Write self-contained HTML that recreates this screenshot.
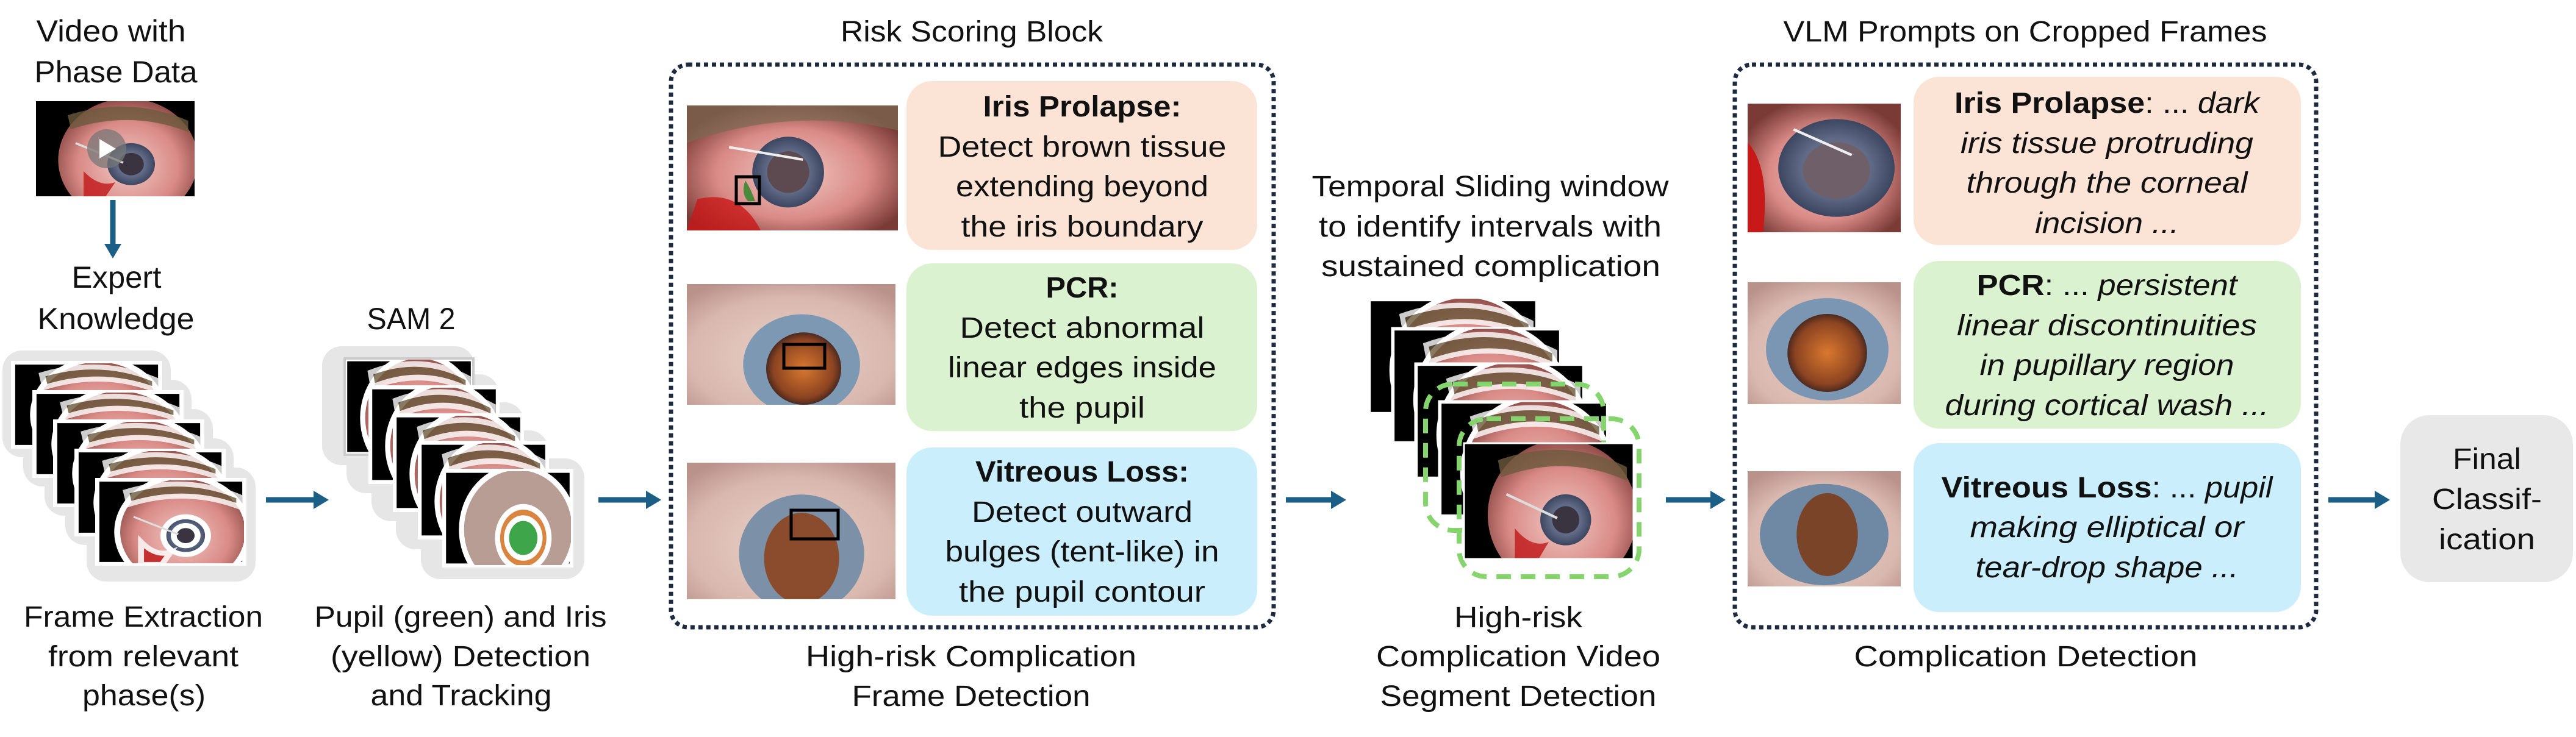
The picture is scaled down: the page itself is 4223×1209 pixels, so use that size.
<!DOCTYPE html>
<html><head><meta charset="utf-8"><style>
html,body{margin:0;padding:0;background:#fff;}
svg{display:block;}
text{font-family:"Liberation Sans",sans-serif;fill:#111;}
</style></head><body>
<svg width="4223" height="1209" viewBox="0 0 4223 1209" xmlns="http://www.w3.org/2000/svg">
<defs>
  <radialGradient id="sclera" cx="0.5" cy="0.55" r="0.6">
    <stop offset="0" stop-color="#f1c9c4"/><stop offset="0.6" stop-color="#d98a86"/><stop offset="1" stop-color="#7a3b36"/>
  </radialGradient>
  <radialGradient id="iris" cx="0.5" cy="0.5" r="0.5">
    <stop offset="0" stop-color="#8a7c86"/><stop offset="0.6" stop-color="#5f6a86"/><stop offset="1" stop-color="#3c4660"/>
  </radialGradient>
  <radialGradient id="pupO" cx="0.5" cy="0.5" r="0.5">
    <stop offset="0" stop-color="#d9782f"/><stop offset="0.8" stop-color="#8c4421"/><stop offset="1" stop-color="#4c2a20"/>
  </radialGradient>
  <radialGradient id="pale" cx="0.5" cy="0.6" r="0.7">
    <stop offset="0" stop-color="#e9d2c8"/><stop offset="0.7" stop-color="#d8b7ae"/><stop offset="1" stop-color="#b9928a"/>
  </radialGradient>
  <symbol id="sf" viewBox="0 0 100 68" preserveAspectRatio="none">
    <rect width="100" height="68" fill="#000"/>
    <ellipse cx="58" cy="42" rx="44" ry="44" fill="url(#sclera)"/>
    <path d="M20 10 Q60 -4 96 14 L96 22 Q60 6 22 20Z" fill="#6b5a3c" opacity="0.8"/>
    <circle cx="60" cy="45" r="15" fill="url(#iris)"/>
    <circle cx="60" cy="45" r="8" fill="#3a3440"/>
    <path d="M30 50 Q40 62 50 58 L44 68 L30 68Z" fill="#c01818" opacity="0.8"/>
    <path d="M25 30 L55 44" stroke="#ddd" stroke-width="1.5"/>
  </symbol>
  <symbol id="sfg" viewBox="0 0 100 68" preserveAspectRatio="none">
    <rect width="100" height="68" fill="#000"/>
    <ellipse cx="58" cy="42" rx="44" ry="44" fill="#b79d93"/>
    <ellipse cx="62" cy="48" rx="20" ry="22" fill="#d98540"/>
    <ellipse cx="62" cy="48" rx="13" ry="14" fill="#3fa54a"/>
  </symbol>
  <symbol id="c1" viewBox="0 0 100 60" preserveAspectRatio="none">
    <rect width="100" height="60" fill="url(#sclera)"/>
    <path d="M0 0 L100 0 L100 12 Q50 0 0 18Z" fill="#7a6a52" opacity="0.7"/>
    <circle cx="48" cy="32" r="17" fill="url(#iris)"/>
    <circle cx="48" cy="32" r="10" fill="#5c4a50"/>
    <path d="M5 45 Q25 40 35 60 L0 60Z" fill="#c81818" opacity="0.8"/>
    <path d="M20 20 L55 26" stroke="#eee" stroke-width="1.2"/>
  </symbol>
  <symbol id="c2" viewBox="0 0 100 60" preserveAspectRatio="none">
    <rect width="100" height="60" fill="url(#pale)"/>
    <ellipse cx="55" cy="40" rx="28" ry="25" fill="#7c98b3"/>
    <ellipse cx="56" cy="42" rx="18" ry="18" fill="url(#pupO)"/>
  </symbol>
  <symbol id="c3" viewBox="0 0 100 60" preserveAspectRatio="none">
    <rect width="100" height="60" fill="url(#pale)"/>
    <ellipse cx="55" cy="40" rx="30" ry="26" fill="#7c90a8"/>
    <ellipse cx="55" cy="42" rx="18" ry="20" fill="#8a4c2c"/>
  </symbol>
  <symbol id="v2" viewBox="0 0 100 100" preserveAspectRatio="none">
    <rect width="100" height="100" fill="url(#pale)"/>
    <ellipse cx="52" cy="55" rx="40" ry="42" fill="#7a96b3"/>
    <ellipse cx="52" cy="58" rx="26" ry="32" fill="url(#pupO)"/>
  </symbol>
  <symbol id="v3" viewBox="0 0 100 100" preserveAspectRatio="none">
    <rect width="100" height="100" fill="url(#pale)"/>
    <ellipse cx="50" cy="55" rx="42" ry="44" fill="#6f88a4"/>
    <ellipse cx="52" cy="55" rx="20" ry="36" fill="#7a4428"/>
  </symbol>
  <symbol id="v1" viewBox="0 0 100 100" preserveAspectRatio="none">
    <rect width="100" height="100" fill="url(#sclera)"/>
    <circle cx="58" cy="50" r="38" fill="url(#iris)"/>
    <circle cx="58" cy="52" r="22" fill="#6e5f68"/>
    <path d="M0 30 Q15 50 10 100 L0 100Z" fill="#c81818"/>
    <path d="M30 20 L68 40" stroke="#eee" stroke-width="2"/>
  </symbol>
</defs>

<!-- Column 1 -->
<text x="182" y="68" font-size="50" text-anchor="middle" textLength="245" lengthAdjust="spacingAndGlyphs">Video with</text>
<text x="190" y="135" font-size="50" text-anchor="middle" textLength="267" lengthAdjust="spacingAndGlyphs">Phase Data</text>
<use href="#sf" x="59" y="166" width="260" height="156"/>
<circle cx="175" cy="244" r="32" fill="#777" opacity="0.75"/>
<polygon points="163,228 163,260 190,244" fill="#fff"/>
<line x1="185" y1="328" x2="185" y2="402" stroke="#1b5f86" stroke-width="9"/>
<polygon points="171,400 199,400 185,424" fill="#1b5f86"/>
<text x="191" y="472" font-size="50" text-anchor="middle" textLength="147" lengthAdjust="spacingAndGlyphs">Expert</text>
<text x="190" y="540" font-size="50" text-anchor="middle" textLength="257" lengthAdjust="spacingAndGlyphs">Knowledge</text>

<!-- stack 1 -->
<g fill="#e6e6e6">
  <rect x="4" y="575" width="276" height="175" rx="32"/>
  <rect x="38" y="623" width="276" height="175" rx="32"/>
  <rect x="73" y="671" width="276" height="175" rx="32"/>
  <rect x="107" y="719" width="276" height="175" rx="32"/>
  <rect x="142" y="767" width="277" height="187" rx="32"/>
</g>
<g stroke="#fff" stroke-width="4">
  <use href="#sf" x="20" y="594" width="244" height="140"/><rect x="20" y="594" width="244" height="140" fill="none"/>
  <use href="#sf" x="55" y="642" width="244" height="140"/><rect x="55" y="642" width="244" height="140" fill="none"/>
  <use href="#sf" x="89" y="690" width="244" height="140"/><rect x="89" y="690" width="244" height="140" fill="none"/>
  <use href="#sf" x="124" y="738" width="244" height="140"/><rect x="124" y="738" width="244" height="140" fill="none"/>
  <use href="#sf" x="158" y="786" width="244" height="140"/><rect x="158" y="786" width="244" height="140" fill="none"/>
</g>
<line x1="436" y1="820" x2="516" y2="820" stroke="#1b5f86" stroke-width="9"/>
<polygon points="514,805 539,820 514,835" fill="#1b5f86"/>

<text x="674" y="540" font-size="50" text-anchor="middle" textLength="145" lengthAdjust="spacingAndGlyphs">SAM 2</text>
<g fill="#e6e6e6">
  <rect x="528" y="568" width="250" height="195" rx="32"/>
  <rect x="568" y="614" width="250" height="195" rx="32"/>
  <rect x="609" y="660" width="250" height="195" rx="32"/>
  <rect x="649" y="706" width="250" height="195" rx="32"/>
  <rect x="690" y="752" width="268" height="198" rx="32"/>
</g>
<g stroke="#fff" stroke-width="4">
  <use href="#sf" x="565" y="588" width="211" height="158"/><rect x="565" y="588" width="211" height="158" fill="none" stroke="#ccc"/>
  <use href="#sf" x="606" y="634" width="211" height="158"/><rect x="606" y="634" width="211" height="158" fill="none"/>
  <use href="#sf" x="646" y="680" width="211" height="158"/><rect x="646" y="680" width="211" height="158" fill="none"/>
  <use href="#sf" x="687" y="725" width="211" height="158"/><rect x="687" y="725" width="211" height="158" fill="none"/>
  <use href="#sfg" x="727" y="771" width="211" height="158"/><rect x="727" y="771" width="211" height="158" fill="none"/>
</g>
<line x1="981" y1="820" x2="1061" y2="820" stroke="#1b5f86" stroke-width="9"/>
<polygon points="1059,805 1084,820 1059,835" fill="#1b5f86"/>

<text x="235" y="1028" font-size="48" text-anchor="middle" textLength="392" lengthAdjust="spacingAndGlyphs">Frame Extraction</text>
<text x="235" y="1093" font-size="48" text-anchor="middle" textLength="312" lengthAdjust="spacingAndGlyphs">from relevant</text>
<text x="236" y="1157" font-size="48" text-anchor="middle" textLength="202" lengthAdjust="spacingAndGlyphs">phase(s)</text>
<text x="755" y="1028" font-size="48" text-anchor="middle" textLength="479" lengthAdjust="spacingAndGlyphs">Pupil (green) and Iris</text>
<text x="755" y="1093" font-size="48" text-anchor="middle" textLength="426" lengthAdjust="spacingAndGlyphs">(yellow) Detection</text>
<text x="756" y="1157" font-size="48" text-anchor="middle" textLength="297" lengthAdjust="spacingAndGlyphs">and Tracking</text>

<!-- Risk Scoring Block -->
<text x="1593" y="68" font-size="48" text-anchor="middle" textLength="430" lengthAdjust="spacingAndGlyphs">Risk Scoring Block</text>
<rect x="1100" y="106" width="988" height="923" rx="28" fill="none" stroke="#1c2b3f" stroke-width="7" stroke-dasharray="7 6"/>
<use href="#c1" x="1126" y="173" width="346" height="205"/>
<rect x="1207" y="290" width="38" height="44" fill="none" stroke="#000" stroke-width="5"/>
<path d="M1222 296 Q1214 316 1226 330 L1238 330 Q1232 312 1222 296Z" fill="#4a8a3a"/>
<use href="#c2" x="1126" y="466" width="342" height="198"/>
<rect x="1285" y="565" width="67" height="39" fill="none" stroke="#000" stroke-width="5"/>
<use href="#c3" x="1126" y="759" width="342" height="224"/>
<rect x="1297" y="837" width="77" height="47" fill="none" stroke="#000" stroke-width="5"/>

<rect x="1486" y="133" width="575" height="277" rx="42" fill="#fbe3d6"/>
<rect x="1486" y="432" width="575" height="275" rx="42" fill="#daf2d0"/>
<rect x="1486" y="734" width="575" height="276" rx="42" fill="#caeefb"/>
<g font-size="48" text-anchor="middle">
<text x="1774" y="191" font-weight="bold" textLength="325" lengthAdjust="spacingAndGlyphs">Iris Prolapse:</text>
<text x="1774" y="257" textLength="473" lengthAdjust="spacingAndGlyphs">Detect brown tissue</text>
<text x="1774" y="322" textLength="414" lengthAdjust="spacingAndGlyphs">extending beyond</text>
<text x="1774" y="388" textLength="397" lengthAdjust="spacingAndGlyphs">the iris boundary</text>
<text x="1774" y="488" font-weight="bold" textLength="119" lengthAdjust="spacingAndGlyphs">PCR:</text>
<text x="1774" y="554" textLength="401" lengthAdjust="spacingAndGlyphs">Detect abnormal</text>
<text x="1774" y="619" textLength="440" lengthAdjust="spacingAndGlyphs">linear edges inside</text>
<text x="1774" y="685" textLength="206" lengthAdjust="spacingAndGlyphs">the pupil</text>
<text x="1774" y="790" font-weight="bold" textLength="350" lengthAdjust="spacingAndGlyphs">Vitreous Loss:</text>
<text x="1774" y="856" textLength="362" lengthAdjust="spacingAndGlyphs">Detect outward</text>
<text x="1774" y="921" textLength="449" lengthAdjust="spacingAndGlyphs">bulges (tent-like) in</text>
<text x="1774" y="987" textLength="404" lengthAdjust="spacingAndGlyphs">the pupil contour</text>
<text x="1592" y="1093" textLength="542" lengthAdjust="spacingAndGlyphs">High-risk Complication</text>
<text x="1592" y="1158" textLength="391" lengthAdjust="spacingAndGlyphs">Frame Detection</text>
</g>
<line x1="2108" y1="820" x2="2184" y2="820" stroke="#1b5f86" stroke-width="9"/>
<polygon points="2182,805 2207,820 2182,835" fill="#1b5f86"/>

<!-- Temporal -->
<g font-size="48" text-anchor="middle">
<text x="2443" y="322" textLength="585" lengthAdjust="spacingAndGlyphs">Temporal Sliding window</text>
<text x="2443" y="388" textLength="562" lengthAdjust="spacingAndGlyphs">to identify intervals with</text>
<text x="2444" y="453" textLength="556" lengthAdjust="spacingAndGlyphs">sustained complication</text>
<text x="2489" y="1029" textLength="210" lengthAdjust="spacingAndGlyphs">High-risk</text>
<text x="2489" y="1093" textLength="466" lengthAdjust="spacingAndGlyphs">Complication Video</text>
<text x="2489" y="1158" textLength="453" lengthAdjust="spacingAndGlyphs">Segment Detection</text>
</g>
<g stroke="#fff" stroke-width="3">
  <use href="#sf" x="2243" y="490" width="278" height="190"/>
  <use href="#sf" x="2282" y="538" width="278" height="190"/><rect x="2282" y="538" width="278" height="190" fill="none"/>
  <use href="#sf" x="2320" y="596" width="278" height="190"/><rect x="2320" y="596" width="278" height="190" fill="none"/>
  <use href="#sf" x="2359" y="658" width="278" height="190"/><rect x="2359" y="658" width="278" height="190" fill="none"/>
</g>
<g fill="none" stroke="#86d46e" stroke-width="8" stroke-dasharray="24 16">
  <rect x="2337" y="630" width="292" height="240" rx="45"/>
  <rect x="2392" y="687" width="295" height="259" rx="45"/>
</g>
<use href="#sf" x="2400" y="727" width="278" height="190"/>
<rect x="2400" y="727" width="278" height="190" fill="none" stroke="#fff" stroke-width="3"/>
<line x1="2731" y1="820" x2="2806" y2="820" stroke="#1b5f86" stroke-width="9"/>
<polygon points="2804,805 2829,820 2804,835" fill="#1b5f86"/>

<!-- VLM -->
<text x="3320" y="68" font-size="48" text-anchor="middle" textLength="793" lengthAdjust="spacingAndGlyphs">VLM Prompts on Cropped Frames</text>
<rect x="2844" y="106" width="953" height="923" rx="28" fill="none" stroke="#1c2b3f" stroke-width="7" stroke-dasharray="7 6"/>
<use href="#v1" x="2865" y="170" width="251" height="211"/>
<use href="#v2" x="2865" y="463" width="251" height="200"/>
<use href="#v3" x="2865" y="773" width="251" height="189"/>
<rect x="3137" y="126" width="635" height="276" rx="42" fill="#fbe3d6"/>
<rect x="3137" y="428" width="635" height="275" rx="42" fill="#daf2d0"/>
<rect x="3137" y="727" width="635" height="277" rx="42" fill="#caeefb"/>
<g font-size="48" text-anchor="middle">
<text x="3454" y="185" textLength="500" lengthAdjust="spacingAndGlyphs"><tspan font-weight="bold">Iris Prolapse</tspan>: ... <tspan font-style="italic">dark</tspan></text>
<text x="3454" y="251" font-style="italic" textLength="480" lengthAdjust="spacingAndGlyphs">iris tissue protruding</text>
<text x="3454" y="316" font-style="italic" textLength="461" lengthAdjust="spacingAndGlyphs">through the corneal</text>
<text x="3454" y="382" font-style="italic" textLength="236" lengthAdjust="spacingAndGlyphs">incision ...</text>
<text x="3454" y="484" textLength="427" lengthAdjust="spacingAndGlyphs"><tspan font-weight="bold">PCR</tspan>: ... <tspan font-style="italic">persistent</tspan></text>
<text x="3454" y="550" font-style="italic" textLength="492" lengthAdjust="spacingAndGlyphs">linear discontinuities</text>
<text x="3454" y="615" font-style="italic" textLength="417" lengthAdjust="spacingAndGlyphs">in pupillary region</text>
<text x="3454" y="681" font-style="italic" textLength="531" lengthAdjust="spacingAndGlyphs">during cortical wash ...</text>
<text x="3454" y="816" textLength="543" lengthAdjust="spacingAndGlyphs"><tspan font-weight="bold">Vitreous Loss</tspan>: ... <tspan font-style="italic">pupil</tspan></text>
<text x="3454" y="881" font-style="italic" textLength="449" lengthAdjust="spacingAndGlyphs">making elliptical or</text>
<text x="3454" y="947" font-style="italic" textLength="431" lengthAdjust="spacingAndGlyphs">tear-drop shape ...</text>
<text x="3321" y="1093" textLength="563" lengthAdjust="spacingAndGlyphs">Complication Detection</text>
</g>
<line x1="3817" y1="820" x2="3895" y2="820" stroke="#1b5f86" stroke-width="9"/>
<polygon points="3893,805 3918,820 3893,835" fill="#1b5f86"/>

<rect x="3935" y="681" width="283" height="274" rx="48" fill="#e8e8e8"/>
<g font-size="48" text-anchor="middle">
<text x="4077" y="769" textLength="112" lengthAdjust="spacingAndGlyphs">Final</text>
<text x="4077" y="835" textLength="180" lengthAdjust="spacingAndGlyphs">Classif-</text>
<text x="4077" y="901" textLength="158" lengthAdjust="spacingAndGlyphs">ication</text>
</g>
</svg>
</body></html>
